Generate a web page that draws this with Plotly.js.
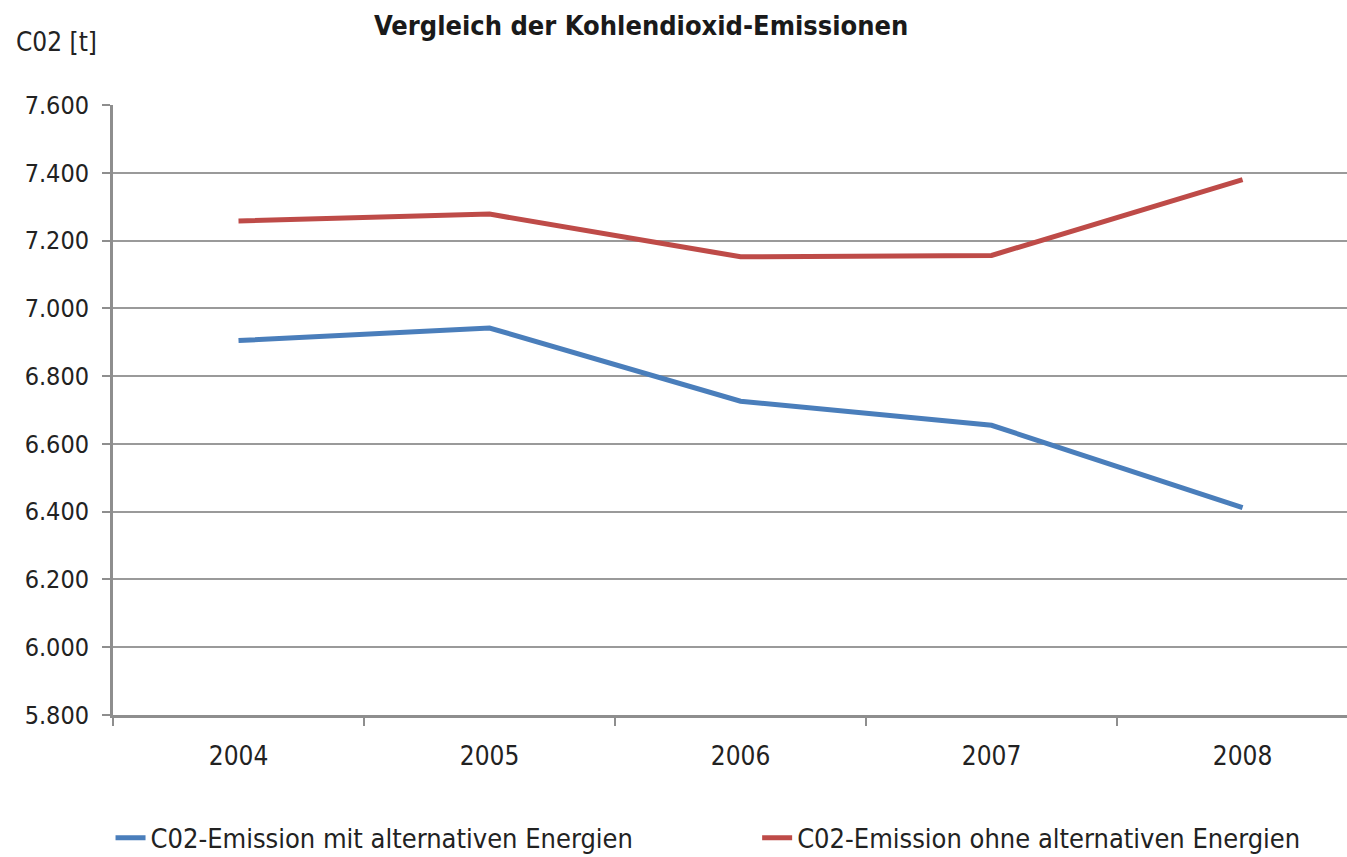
<!DOCTYPE html>
<html>
<head>
<meta charset="utf-8">
<script src="https://cdn.plot.ly/plotly-3.0.1.min.js"></script>
<style>
  html, body { margin: 0; padding: 0; background: #fff; }
  #chart { width: 1347px; height: 857px; }
</style>
</head>
<body>
<div id="chart"></div>
<script>
// data
const years = ['2004', '2005', '2006', '2007', '2008'];
const mitAlternativ = [6905, 6942, 6726, 6655, 6412];
const ohneAlternativ = [7258, 7278, 7152, 7156, 7380];
const seriesNames = [
    'C02-Emission mit alternativen Energien',
    'C02-Emission ohne alternativen Energien'
];

const fontFam = '"DejaVu Sans Condensed", "Liberation Sans Narrow", sans-serif';
const axisGrey = '#8e8e8e';

const data = [
    {
        x: years,
        y: mitAlternativ,
        name: seriesNames[0],
        mode: 'lines',
        line: { color: '#4a7ebb', width: 5 },
        legend: 'legend'
    },
    {
        x: years,
        y: ohneAlternativ,
        name: seriesNames[1],
        mode: 'lines',
        line: { color: '#be4b48', width: 5 },
        legend: 'legend2'
    }
];

// each series gets its own legend box so they can sit far apart
const legendBase = {
    orientation: 'h',
    xanchor: 'left',
    yref: 'container',
    y: 0.022, yanchor: 'middle',
    font: { size: 27, color: '#222' },
    bgcolor: 'rgba(0,0,0,0)'
};

const layout = {
    width: 1347,
    height: 857,
    margin: { l: 113, r: 0, t: 105, b: 142, autoexpand: false },
    paper_bgcolor: '#fff',
    plot_bgcolor: '#fff',
    separators: ',.',
    font: { family: fontFam, size: 24, color: '#222' },
    title: {
        text: '<b>Vergleich der Kohlendioxid-Emissionen</b>',
        font: { family: fontFam, size: 27, color: '#1a1a1a' },
        xref: 'container', x: 0.476, xanchor: 'center',
        yref: 'container', y: 0.97, yanchor: 'middle'
    },
    xaxis: {
        type: 'category',
        range: [-0.5, 4.416],
        tickson: 'boundaries',
        ticks: 'outside',
        ticklen: 8,
        tickwidth: 2,
        tickcolor: axisGrey,
        showgrid: false,
        showline: true,
        linecolor: axisGrey,
        linewidth: 3,
        tickfont: { size: 26, color: '#222' },
        ticklabelstandoff: 16,
        fixedrange: true
    },
    yaxis: {
        range: [5800, 7600],
        tickvals: [5800, 6000, 6200, 6400, 6600, 6800, 7000, 7200, 7400, 7600],
        tickformat: ',',
        ticks: 'outside',
        ticklen: 8,
        tickwidth: 2,
        tickcolor: axisGrey,
        showgrid: true,
        gridcolor: '#9a9a9a',
        gridwidth: 2,
        showline: true,
        linecolor: axisGrey,
        linewidth: 3,
        zeroline: false,
        tickfont: { size: 25, color: '#222' },
        ticklabelstandoff: 8,
        fixedrange: true
    },
    showlegend: true,
    legend: Object.assign({}, legendBase, { x: -0.002 }),
    legend2: Object.assign({}, legendBase, { x: 0.522 }),
    annotations: [
        {
            text: 'C02 [t]',
            xref: 'paper', yref: 'paper',
            x: -0.08, xanchor: 'left',
            y: 1.103, yanchor: 'middle',
            showarrow: false,
            font: { size: 26, color: '#222' }
        }
    ]
};

Plotly.newPlot('chart', data, layout, { displayModeBar: false, staticPlot: true });
</script>
</body>
</html>
